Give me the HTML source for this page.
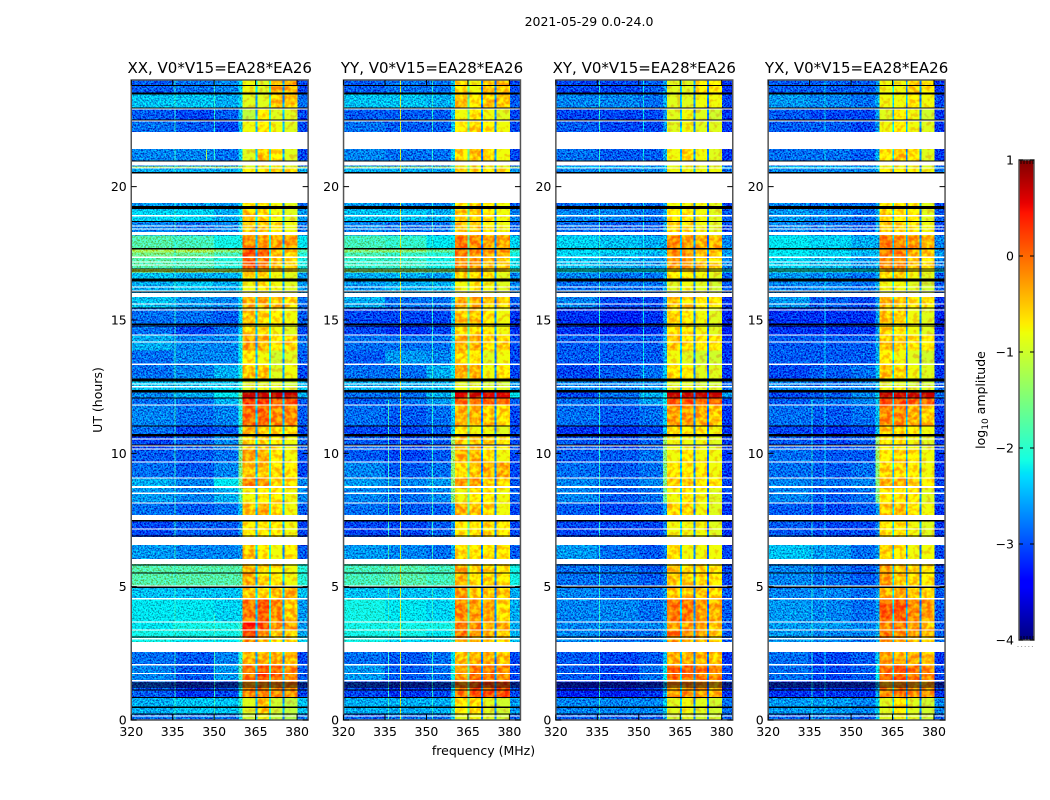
<!DOCTYPE html>
<html lang="en">
<head>
<meta charset="utf-8">
<title>2021-05-29 amplitude waterfall</title>
<style>
html,body{margin:0;padding:0;background:#fff}
svg{display:block}
text{font-family:"DejaVu Sans","Liberation Sans",sans-serif;fill:#000;font-size:12.5px}
</style>
</head>
<body>
<svg id="figure" width="1050" height="800" viewBox="0 0 1050 800" xmlns="http://www.w3.org/2000/svg">
<defs>
<filter id="grain" filterUnits="userSpaceOnUse" x="0" y="0" width="1050" height="800" color-interpolation-filters="sRGB">
<feTurbulence type="fractalNoise" baseFrequency="0.6" numOctaves="2" seed="7" result="raw"/>
<feColorMatrix in="raw" type="matrix" values="0 0 0 0 0.5  2.6 0 0 0 -0.8  2.6 0 0 0 -0.8  0 0 0 0 1" result="noise"/>
<feComposite in="SourceGraphic" in2="noise" operator="arithmetic" k1="0" k2="1" k3="0.6" k4="-0.3" result="mixed"/>
<feComposite in="mixed" in2="SourceAlpha" operator="in"/>
</filter>
<filter id="bandGrain" filterUnits="userSpaceOnUse" x="0" y="0" width="1050" height="800" color-interpolation-filters="sRGB">
<feTurbulence type="fractalNoise" baseFrequency="0.22" numOctaves="2" seed="11" result="raw"/>
<feColorMatrix in="raw" type="matrix" values="0 0 0 0 0.5  2.6 0 0 0 -0.8  0 0 0 0 0.5  0 0 0 0 1" result="noise"/>
<feComposite in="SourceGraphic" in2="noise" operator="arithmetic" k1="0" k2="1" k3="0.4" k4="-0.2" result="mixed"/>
<feComposite in="mixed" in2="SourceAlpha" operator="in"/>
</filter>
</defs>
<rect width="1050" height="800" fill="#fff"/>
<text x="589" y="26" text-anchor="middle">2021-05-29 0.0-24.0</text>
<text x="483.5" y="755" text-anchor="middle">frequency (MHz)</text>
<text transform="translate(102 400) rotate(-90)" text-anchor="middle">UT (hours)</text>
<text transform="translate(985 400) rotate(-90)" text-anchor="middle">log<tspan font-size="9" dy="3">10</tspan><tspan dy="-3"> amplitude</tspan></text>
<g id="panels"></g>
<g id="colorbar"></g>
</svg>
<script>
const panelTitles = ["XX, V0*V15=EA28*EA26","YY, V0*V15=EA28*EA26","XY, V0*V15=EA28*EA26","YX, V0*V15=EA28*EA26"];
const freqTicks = [320,335,350,365,380];
const hourTicks = [0,5,10,15,20];
const barTicks = [-4,-3,-2,-1,0,1];
const freqEdges = [320,335,350,358.8,360.3,364.9,365.6,369.8,370.5,374.7,375.4,380,384];
const hourEdges = [0,.22,.86,1.46,2.1,2.7,3.11,3.38,3.68,4.58,5.03,5.9,6.7,7.5,8.14,8.7,9.08,9.68,10.16,10.65,11.03,11.81,12.08,12.3,12.53,12.75,13.31,13.88,14.44,14.81,15.45,15.9,16.5,16.8,16.95,17.36,17.55,17.7,18.19,18.71,19.16,20,20.7,20.78,21.7,22.5,22.95,23.48,24];
const gapBands = [[2.55,2.93],[5.85,6.04],[6.56,6.86],[7.5,7.69],[8.7,8.78],[15.86,16.01],[18.19,18.3],[19.39,20.49],[20.79,20.94],[21.41,22.05]];
const gapLines = [.15,1.47,1.74,2.07,3.05,3.38,3.68,4.55,5.03,7.16,8.14,8.5,9.08,9.68,10.16,10.28,10.54,11.81,12.5,12.6,13.34,14.18,14.44,15.38,15.6,16.09,16.24,17.06,17.18,17.35,18.41,18.53,18.91,20.7,22.46,22.91];
const flagLines = [.22,.48,.84,1.12,1.24,1.31,1.39,1.46,3.11,4.98,5.51,5.81,6.9,7.47,10.31,10.65,10.7,11.03,12.08,12.3,12.35,12.72,12.78,14.78,14.84,15.45,16.06,16.47,16.5,16.53,16.84,16.91,17.67,18.69,19.18,19.22,19.26,20.52,20.96,22.5,22.95,23.47,23.5,23.79];
const slotLevels = [[-2.4,-2.0,-2.5],[-1.7,-2.7,-2.7],[-2.4,-2.7,-2.8],[-2.3,-2.6,-2.7]];
const rfiXX = [[335.7,0,24,-2.0],[350,0,4,-1.9],[350,21,24,-2.0],[347,21,21.4,-1.2]];
const rfiYY = [[340.4,0,24,-1.0],[336,0,12,-1.9],[352,0,24,-2.0]];
const rfiXY = [[335.7,0,24,-2.0],[351.5,12,24,-2.2]];
const rfiYX = [[335.7,0,12,-2.1],[340.4,0,24,-2.3]];
const levelsXX = [
[-2.7,-2.7,-2.7,-2.2,-1,-.8,-1.1,-1.2,-2.7],[-2.4,-2.3,-2.3,-1.9,-.9,-.5,-1,-1.1,-2.3],[-2.8,-3,-2.9,-2,-.2,-.1,-.2,-.2,-2.9],[-2.6,-2.8,-2.5,-1.7,-.1,.1,0,-.2,-2.8],
[-2.7,-2.8,-2.6,-1.9,-.4,-.4,-.4,-.5,-2.9],[-2,-2.1,-2.1,-1.8,-.2,-.4,-.6,-.6,-2.2],[-2,-2,-2,-1.9,.2,-.2,-.5,-.6,-2.4],[-2.1,-2,-2,-1.8,.35,.1,-.2,-.3,-2.5],
[-2.1,-2.1,-2.2,-2.2,-.1,.05,-.2,-.5,-2.5],[-2.3,-2.3,-2.3,-2.3,-.5,-.6,-.5,-.4,-2.3],[-1.6,-1.6,-1.6,-1.6,-.4,-.6,-.7,-.8,-1.9],[-2.5,-2.6,-2.6,-2.5,-.5,-.7,-.8,-.7,-2.8],
[-2.9,-2.8,-2.8,-2.5,-.7,-.7,-.7,-.8,-2.9],[-2.7,-2.8,-2.7,-2.3,-.5,-.4,-.6,-.8,-2.8],[-2.5,-2.6,-2.4,-1.7,-.8,-.7,-.7,-.8,-2.6],[-2.4,-2.6,-2.1,-1.3,-.2,-.3,-.6,-.6,-2.6],
[-2.7,-2.8,-2.6,-1.4,-.5,-.5,-.6,-.7,-2.9],[-2.8,-2.8,-2.7,-1.4,-.3,-.4,-.7,-.8,-2.9],[-2.9,-2.8,-2.6,-1.3,-.6,-.6,-.7,-.8,-2.8],[-2.7,-2.9,-2.8,-1.8,-.4,-.5,-.6,-.7,-2.9],
[-2.6,-2.7,-2.6,-1.9,-.05,0,-.2,-.2,-2.8],[-2.7,-2.7,-2.4,-1.7,.25,.2,.1,.1,-2.8],[-2.6,-2.4,-2.1,-1.5,.7,.7,.7,.7,-2.4],[-2.3,-2.3,-2.2,-1.9,-.9,-.8,-.9,-.9,-2.3],
[-2.3,-2.3,-2.3,-2,-.9,-.9,-.9,-1,-2.4],[-2.7,-2.6,-2.4,-2,-.5,-.5,-.9,-.8,-2.9],[-2.7,-2.6,-2.6,-2.1,-.7,-.8,-1,-.9,-2.8],[-2.4,-2.6,-2.6,-2,-.3,-.4,-.7,-.6,-2.7],
[-2.7,-2.9,-2.7,-2.2,-.6,-.6,-.8,-.9,-2.9],[-2.7,-2.7,-2.8,-2.2,-.5,-.6,-.7,-.8,-2.8],[-2.3,-2.5,-2.6,-2.2,-.4,-.4,-.5,-.6,-2.7],[-2.4,-2.3,-2.4,-2.1,-.8,-.7,-.8,-.9,-2.5],
[-2.3,-2.4,-2.4,-2.2,-.6,-.6,-.8,-.9,-2.5],[-.9,-.9,-1,-1.1,-.4,-.4,-.6,-.7,-1.3],[-1.6,-1.7,-1.9,-1.9,.05,-.1,-.5,-.6,-2],[-1.4,-1.5,-1.7,-1.7,.2,.1,-.5,-.6,-1.9],
[-1.1,-1.1,-1.3,-1.4,.1,-.1,-.4,-.5,-1.6],[-1.6,-1.7,-2,-2,-.2,-.3,-.3,-.3,-2.1],[-2.6,-2.7,-2.6,-2.2,-.5,-.5,-.7,-.8,-2.7],[-2.2,-2.2,-2.4,-2.1,-.5,-.6,-.8,-.9,-2.5],
[-2.5,-2.5,-2.5,-2.2,-.7,-.6,-.8,-.9,-2.7],[-2.4,-2.4,-2.4,-2.2,-.7,-.6,-.6,-.6,-2.4],[-1,-1,-1,-1,-1,-1,-1,-1,-1.1],[-2.6,-2.6,-2.7,-2.2,-.9,-.5,-.7,-.9,-2.9],
[-2.7,-2.8,-2.9,-2.3,-.8,-.7,-.8,-.9,-2.9],[-2.8,-2.9,-2.8,-2.3,-1.1,-.7,-.9,-.9,-2.9],[-2.3,-2.3,-2.4,-2.2,-.9,-.9,-.5,-.5,-2.7],[-2.8,-2.7,-2.6,-2.2,-.8,-.9,-.4,-.4,-2.9]];
const levelsYY = [
[-2.8,-2.7,-2.7,-2.2,-.9,-.8,-.9,-1,-2.8],[-2.4,-2.4,-2.4,-1.9,-.7,-.6,-.9,-1,-2.5],[-2.9,-3,-2.9,-2.2,-.1,.1,.1,.1,-2.9],[-2.5,-2.8,-2.7,-2,-.3,-.1,-.1,-.2,-2.9],
[-2.7,-2.8,-2.7,-2.1,-.5,-.4,-.4,-.5,-2.9],[-2,-2.2,-2.2,-1.9,-.3,-.4,-.5,-.6,-2.3],[-2,-2,-2.1,-1.9,-.1,-.3,-.4,-.5,-2.4],[-2,-2,-2,-1.9,-.1,-.2,-.4,-.4,-2.4],
[-2,-2.1,-2.2,-2.1,-.2,-.3,-.4,-.6,-2.4],[-2.3,-2.3,-2.3,-2.2,-.3,-.5,-.5,-.5,-2.4],[-1.7,-1.6,-1.7,-1.7,-.4,-.6,-.6,-.7,-2],[-2.5,-2.6,-2.7,-2.4,-.6,-.7,-.7,-.7,-2.8],
[-2.9,-2.9,-2.8,-2.5,-.7,-.7,-.6,-.7,-2.9],[-2.7,-2.8,-2.8,-2.4,-.4,-.5,-.6,-.8,-2.9],[-2.6,-2.7,-2.6,-1.4,-.8,-.7,-.7,-.8,-2.8],[-2.5,-2.6,-2.5,-1.3,-.3,-.3,-.6,-.6,-2.8],
[-2.6,-2.8,-2.7,-1.3,-.6,-.5,-.4,-.4,-2.9],[-2.8,-2.9,-2.8,-1.2,-.4,-.4,-.7,-.8,-2.9],[-2.8,-2.9,-2.8,-1.2,-.5,-.5,-.6,-.7,-2.9],[-2.9,-2.9,-2.8,-2.2,-.7,-.8,-.8,-.9,-2.9],
[-2.7,-2.8,-2.7,-2.3,-.4,-.4,-.5,-.6,-2.9],[-2.8,-2.7,-2.5,-2.1,-.05,-.1,0,-.1,-2.8],[-2.7,-2.7,-2.4,-1.9,.6,.7,.6,.6,-2.1],[-2.4,-2.4,-2.3,-2.1,-.8,-.8,-.9,-.9,-2.5],
[-2.4,-2.4,-2.4,-2.2,-.9,-.9,-1,-1,-2.5],[-2.7,-2.7,-2.4,-2.1,-.4,-.4,-.8,-.7,-2.9],[-2.8,-2.5,-2.6,-2.2,-.6,-.7,-.9,-.8,-2.9],[-2.7,-2.7,-2.7,-2.2,-.4,-.4,-.6,-.6,-2.9],
[-2.9,-3,-2.9,-2.3,-.6,-.6,-.7,-.8,-3],[-2.9,-2.9,-2.9,-2.3,-.5,-.5,-.7,-.8,-3],[-2.4,-2.7,-2.7,-2.3,-.4,-.4,-.5,-.6,-2.8],[-2.5,-2.4,-2.4,-2.2,-.8,-.7,-.8,-.9,-2.6],
[-2.4,-2.4,-2.5,-2.2,-.6,-.6,-.7,-.9,-2.6],[-1.2,-1.2,-1.3,-1.3,-.4,-.4,-.6,-.7,-1.6],[-1.8,-1.8,-2,-2,-.2,-.3,-.4,-.5,-2.1],[-1.7,-1.8,-1.9,-1.9,-.1,-.2,-.4,-.5,-2],
[-1.3,-1.3,-1.5,-1.6,-.1,-.2,-.3,-.3,-1.8],[-1.7,-1.8,-2.1,-2.1,-.1,-.2,-.3,-.3,-2.2],[-2.6,-2.7,-2.7,-2.3,-.5,-.5,-.7,-.8,-2.8],[-2.3,-2.3,-2.4,-2.2,-.5,-.6,-.7,-.8,-2.6],
[-2.5,-2.6,-2.6,-2.3,-.7,-.6,-.7,-.8,-2.8],[-2.4,-2.4,-2.5,-2.2,-.6,-.6,-.6,-.7,-2.5],[-1.2,-1.2,-1.2,-1.2,-1,-1,-1,-1,-1.3],[-2.6,-2.7,-2.7,-2.2,-.6,-.5,-.6,-.8,-2.9],
[-2.7,-2.8,-2.8,-2.3,-.7,-.6,-.7,-.8,-2.9],[-2.8,-2.8,-2.8,-2.3,-.8,-.7,-.8,-.9,-2.9],[-2.3,-2.3,-2.4,-2.2,-.5,-.7,-.5,-.5,-2.8],[-2.8,-2.7,-2.7,-2.3,-.6,-.8,-.5,-.5,-2.9]];
const levelsXY = [
[-2.8,-2.8,-2.8,-2.4,-1,-.9,-1,-1,-2.8],[-2.6,-2.6,-2.6,-2.2,-.9,-.8,-.9,-1,-2.7],[-3.1,-3.1,-3,-2.4,-.3,-.2,-.3,-.4,-3],[-2.8,-2.9,-2.7,-2.1,0,0,-.1,-.2,-2.9],
[-2.8,-2.9,-2.8,-2.3,-.4,-.4,-.4,-.5,-3],[-2.6,-2.7,-2.7,-2.4,-.3,-.4,-.5,-.6,-2.8],[-2.6,-2.7,-2.7,-2.4,-.1,-.2,-.3,-.5,-2.8],[-2.6,-2.6,-2.6,-2.4,-.3,-.3,-.4,-.5,-2.8],
[-2.6,-2.6,-2.7,-2.5,-.1,-.1,-.3,-.4,-2.8],[-2.6,-2.7,-2.7,-2.5,-.5,-.5,-.5,-.6,-2.8],[-2.7,-2.7,-2.8,-2.6,-.5,-.6,-.6,-.7,-2.9],[-2.5,-2.7,-2.8,-2.6,-.7,-.8,-.8,-.8,-2.9],
[-2.9,-2.9,-2.9,-2.6,-.8,-.8,-.8,-.9,-3],[-2.8,-2.9,-2.8,-2.5,-.6,-.6,-.8,-.9,-3],[-2.6,-2.8,-2.7,-1.5,-.8,-.7,-.8,-.9,-2.9],[-2.6,-2.7,-2.6,-1.4,-.5,-.5,-.7,-.7,-2.9],
[-2.7,-2.8,-2.7,-1.4,-.7,-.7,-.7,-.8,-3],[-2.8,-2.8,-2.7,-1.3,-.8,-.7,-.8,-.8,-3],[-2.8,-2.9,-2.8,-1.3,-.8,-.8,-.8,-.9,-3],[-3,-3,-2.9,-2.3,-.6,-.7,-.7,-.8,-3],
[-2.7,-2.8,-2.7,-2.3,-.3,-.3,-.4,-.5,-3],[-2.7,-2.7,-2.5,-2.1,.1,.1,0,0,-2.9],[-2.9,-2.7,-2.4,-2,.7,.7,.7,.7,-2.5],[-2.6,-2.6,-2.5,-2.2,-.9,-.8,-.9,-.9,-2.7],
[-2.6,-2.6,-2.6,-2.3,-.9,-.9,-1,-1,-2.8],[-2.9,-2.8,-2.7,-2.3,-.6,-.7,-.9,-.9,-3],[-2.8,-2.8,-2.8,-2.4,-.8,-.9,-1,-1,-3],[-2.8,-2.8,-2.8,-2.4,-.5,-.6,-.7,-.7,-3],
[-3,-3.1,-3,-2.5,-.7,-.7,-.8,-.9,-3.1],[-3,-3.1,-3,-2.5,-.6,-.7,-.8,-.9,-3.1],[-2.6,-2.9,-2.9,-2.5,-.5,-.6,-.7,-.7,-3],[-2.7,-2.7,-2.7,-2.4,-.9,-.8,-.9,-1,-2.8],
[-2.6,-2.7,-2.7,-2.4,-.7,-.7,-.8,-.9,-2.8],[-2,-2.1,-2.1,-2.1,-.6,-.6,-.7,-.8,-2.3],[-2.3,-2.4,-2.5,-2.4,-.3,-.3,-.5,-.6,-2.6],[-2.2,-2.3,-2.4,-2.3,-.2,-.2,-.5,-.6,-2.5],
[-2.2,-2.2,-2.3,-2.3,-.2,-.3,-.4,-.5,-2.5],[-2.2,-2.3,-2.4,-2.4,-.2,-.3,-.4,-.4,-2.6],[-2.7,-2.8,-2.8,-2.4,-.6,-.6,-.8,-.9,-2.9],[-2.6,-2.6,-2.7,-2.4,-.7,-.7,-.8,-.9,-2.8],
[-2.7,-2.7,-2.7,-2.4,-.8,-.8,-.8,-.9,-2.9],[-2.6,-2.6,-2.6,-2.4,-.8,-.8,-.8,-.8,-2.7],[-2.1,-2.2,-2.2,-2.2,-1,-1,-1,-1,-2.3],[-2.7,-2.8,-2.8,-2.4,-.8,-.6,-.8,-.9,-3],
[-2.8,-2.9,-2.9,-2.5,-.9,-.8,-.9,-.9,-3],[-2.9,-2.9,-2.9,-2.5,-.9,-.8,-.9,-1,-3],[-2.6,-2.6,-2.7,-2.4,-.9,-.9,-.8,-.8,-2.9],[-2.9,-2.9,-2.8,-2.5,-.9,-.9,-.7,-.7,-3]];
const levelsYX = [
[-2.8,-2.7,-2.8,-2.3,-.9,-.8,-.9,-1,-2.8],[-2.5,-2.5,-2.6,-2.2,-.9,-.7,-.9,-1,-2.6],[-3,-3,-3,-2.4,-.2,-.1,-.2,-.3,-3],[-2.7,-2.9,-2.8,-2.1,-.05,.05,-.1,-.2,-2.9],
[-2.7,-2.9,-2.8,-2.3,-.3,-.4,-.4,-.5,-3],[-2.5,-2.6,-2.7,-2.4,-.2,-.3,-.5,-.6,-2.7],[-2.5,-2.6,-2.6,-2.4,-.1,-.2,-.3,-.4,-2.8],[-2.5,-2.5,-2.6,-2.4,-.2,-.1,-.3,-.5,-2.8],
[-2.5,-2.6,-2.7,-2.5,.05,.05,-.2,-.3,-2.8],[-2.6,-2.6,-2.7,-2.5,-.4,-.4,-.5,-.6,-2.8],[-2.6,-2.7,-2.8,-2.6,-.3,-.5,-.6,-.7,-2.9],[-2.3,-2.5,-2.7,-2.5,-.6,-.7,-.8,-.8,-2.9],
[-2.8,-2.9,-2.9,-2.6,-.7,-.7,-.8,-.9,-3],[-2.8,-2.9,-2.8,-2.5,-.5,-.5,-.7,-.8,-3],[-2.6,-2.8,-2.7,-1.4,-.7,-.7,-.7,-.9,-2.9],[-2.6,-2.7,-2.6,-1.3,-.4,-.4,-.6,-.7,-2.9],
[-2.7,-2.8,-2.7,-1.3,-.6,-.6,-.7,-.8,-3],[-2.7,-2.8,-2.8,-1.2,-.7,-.6,-.7,-.8,-3],[-2.8,-2.9,-2.8,-1.2,-.7,-.7,-.8,-.9,-3],[-2.9,-3,-2.9,-2.3,-.5,-.6,-.7,-.8,-3],
[-2.7,-2.8,-2.7,-2.3,-.2,-.2,-.4,-.5,-3],[-2.8,-2.7,-2.6,-2.2,.15,.1,0,0,-2.9],[-2.9,-2.8,-2.6,-2.2,.7,.65,.7,.7,-2.7],[-2.6,-2.6,-2.6,-2.3,-.8,-.8,-.9,-.9,-2.7],
[-2.6,-2.7,-2.6,-2.3,-.9,-.9,-1,-1,-2.8],[-2.9,-2.8,-2.7,-2.3,-.5,-.6,-.8,-.9,-3],[-2.8,-2.8,-2.8,-2.4,-.7,-.8,-.9,-1,-3],[-2.8,-2.8,-2.8,-2.4,-.5,-.5,-.7,-.7,-3],
[-3,-3,-3,-2.5,-.6,-.7,-.8,-.9,-3.1],[-3,-3,-3,-2.5,-.5,-.6,-.8,-.9,-3.1],[-2.5,-2.8,-2.9,-2.5,-.4,-.5,-.7,-.7,-3],[-2.6,-2.6,-2.7,-2.4,-.8,-.8,-.9,-1,-2.8],
[-2.5,-2.6,-2.7,-2.4,-.6,-.6,-.8,-.9,-2.8],[-1.9,-2,-2.1,-2.1,-.5,-.5,-.7,-.8,-2.3],[-2.2,-2.3,-2.5,-2.4,-.2,-.2,-.5,-.6,-2.6],[-2.1,-2.2,-2.4,-2.3,-.1,-.1,-.4,-.5,-2.5],
[-2.1,-2.2,-2.3,-2.3,-.1,-.2,-.4,-.5,-2.5],[-2.1,-2.2,-2.4,-2.4,-.1,-.2,-.3,-.4,-2.6],[-2.6,-2.7,-2.8,-2.4,-.5,-.6,-.7,-.8,-2.9],[-2.5,-2.6,-2.7,-2.4,-.6,-.7,-.7,-.9,-2.8],
[-2.6,-2.7,-2.7,-2.4,-.7,-.7,-.7,-.9,-2.9],[-2.6,-2.6,-2.6,-2.4,-.7,-.7,-.7,-.8,-2.7],[-2,-2.1,-2.2,-2.2,-1,-1,-1,-1,-2.3],[-2.7,-2.7,-2.8,-2.4,-.7,-.5,-.7,-.9,-3],
[-2.8,-2.8,-2.9,-2.5,-.8,-.7,-.8,-.9,-3],[-2.8,-2.9,-2.9,-2.5,-.9,-.7,-.8,-1,-3],[-2.5,-2.6,-2.7,-2.4,-.8,-.8,-.7,-.8,-2.9],[-2.8,-2.8,-2.8,-2.5,-.8,-.8,-.6,-.7,-3]];
const panelLevels = [levelsXX,levelsYY,levelsXY,levelsYX];
const panelRfi = [rfiXX,rfiYY,rfiXY,rfiYX];

const NS = "http://www.w3.org/2000/svg";
const FREQ_MIN = 320, FREQ_MAX = 384, HOUR_MAX = 24, LEVEL_MIN = -4, LEVEL_MAX = 1;
const BACKGROUND_BIAS = -0.15;
const BAND_COLUMNS = [4,5,6,7,8,9,10];
const PANEL_W = 176.9, PANEL_STEP = 212.3, PANEL_LEFT = 131.25, PANEL_TOP = 80, PANEL_H = 640;
const panelX = i => PANEL_LEFT + i * PANEL_STEP;
const xScale = (f, i) => panelX(i) + (f - FREQ_MIN) / (FREQ_MAX - FREQ_MIN) * PANEL_W;
const yScale = h => PANEL_TOP + PANEL_H - h / HOUR_MAX * PANEL_H;
const BAR_X = 1019, BAR_W = 15, BAR_TOP = 160, BAR_H = 480;
const barY = v => BAR_TOP + (LEVEL_MAX - v) / (LEVEL_MAX - LEVEL_MIN) * BAR_H;

function lerpStops(stops, t) {
  for (let i = 1; i < stops.length; i++) {
    if (t <= stops[i][0]) {
      const a = stops[i - 1], b = stops[i];
      return a[1] + (b[1] - a[1]) * (t - a[0]) / (b[0] - a[0]);
    }
  }
  return stops[stops.length - 1][1];
}
const jetR = [[0,0],[.35,0],[.66,1],[.89,1],[1,.5]];
const jetG = [[0,0],[.125,0],[.375,1],[.64,1],[.91,0],[1,0]];
const jetB = [[0,.5],[.11,1],[.34,1],[.65,0],[1,0]];
function jet(v) {
  const t = Math.min(1, Math.max(0, (v - LEVEL_MIN) / (LEVEL_MAX - LEVEL_MIN)));
  const c = s => Math.round(lerpStops(s, t) * 255);
  return "rgb(" + c(jetR) + "," + c(jetG) + "," + c(jetB) + ")";
}
function make(tag, attrs, parent) {
  const el = document.createElementNS(NS, tag);
  for (const k in attrs) el.setAttribute(k, attrs[k]);
  parent.appendChild(el);
  return el;
}
function columnLevel(row, col, panel) {
  const map = [row[0],row[1],row[2],row[3],row[4],slotLevels[panel][0],row[5],slotLevels[panel][1],row[6],slotLevels[panel][2],row[7],row[8]];
  return BAND_COLUMNS.includes(col) ? map[col] : map[col] + BACKGROUND_BIAS;
}

const panelsGroup = document.getElementById("panels");
panelTitles.forEach((title, p) => {
  const g = make("g", {}, panelsGroup);
  
  
  const backgroundCells = make("g", {"shape-rendering":"crispEdges", filter:"url(#grain)"}, g);
  
  
  const cells = make("g", {"shape-rendering":"crispEdges", filter:"url(#bandGrain)"}, g);
  
  
  const overlays = make("g", {"shape-rendering":"crispEdges"}, g);
  
  
  panelLevels[p].forEach((row, r) => {
    for (let c = 0; c < freqEdges.length - 1; c++) {
      const x0 = xScale(freqEdges[c], p), x1 = xScale(freqEdges[c + 1], p);
      const y0 = yScale(hourEdges[r + 1]), y1 = yScale(hourEdges[r]);
      const target = BAND_COLUMNS.includes(c) ? cells : backgroundCells;
      const cell = make("rect", {x:x0, y:y0, width:x1 - x0 + .5, height:y1 - y0 + .5, fill:jet(columnLevel(row, c, p))}, target);
      
      
    }
  });
  panelRfi[p].forEach(item => {
    const y0 = yScale(item[2]), y1 = yScale(item[1]);
    const rfi = make("rect", {x:xScale(item[0], p), y:y0, width:1, height:y1 - y0, fill:jet(item[3])}, backgroundCells);
    
    
  });
  flagLines.forEach(h => {
    const flag = make("rect", {x:panelX(p), y:yScale(h) - .6, width:PANEL_W, height:1.2, fill:"#000"}, overlays);
    
    
  });
  gapLines.forEach(h => {
    const line = make("rect", {x:panelX(p), y:yScale(h) - .6, width:PANEL_W, height:1.2, fill:"#fff"}, overlays);
    
    
  });
  gapBands.forEach(b => {
    const y0 = yScale(b[1]), y1 = yScale(b[0]);
    const gap = make("rect", {x:panelX(p), y:y0, width:PANEL_W, height:y1 - y0, fill:"#fff"}, overlays);
    
    
  });
  const frame = make("rect", {x:panelX(p), y:PANEL_TOP, width:PANEL_W, height:PANEL_H, fill:"none", stroke:"#555", "stroke-width":1.5}, g);
  
  
  freqTicks.forEach(f => {
    const x = xScale(f, p);
    const lo = make("path", {d:"M" + x + " " + (PANEL_TOP + PANEL_H) + "v-5.5M" + x + " " + PANEL_TOP + "v5.5", stroke:"#000", "stroke-width":1}, g);
    
    
    const lab = make("text", {x:x, y:PANEL_TOP + PANEL_H + 16, "text-anchor":"middle"}, g);
    lab.textContent = f;
    
    
  });
  hourTicks.forEach(h => {
    const y = yScale(h);
    const tk = make("path", {d:"M" + panelX(p) + " " + y + "h5.5M" + (panelX(p) + PANEL_W) + " " + y + "h-5.5", stroke:"#000", "stroke-width":1}, g);
    
    
    const lab = make("text", {x:panelX(p) - 4.5, y:y + 4.5, "text-anchor":"end"}, g);
    lab.textContent = h;
    
    
  });
  const t = make("text", {x:panelX(p) + PANEL_W / 2, y:PANEL_TOP - 7, "text-anchor":"middle", "font-size":15, style:"font-size:15px"}, g);
  t.textContent = title;
  
  
});

const barGroup = document.getElementById("colorbar");
const barStrip = make("g", {"shape-rendering":"crispEdges"}, barGroup);


for (let k = 0; k < BAR_H; k++) {
  const v = LEVEL_MAX - (k + .5) / BAR_H * (LEVEL_MAX - LEVEL_MIN);
  const s = make("rect", {x:BAR_X, y:BAR_TOP + k, width:BAR_W, height:1.2, fill:jet(v)}, barStrip);
  
  
}
const barFrame = make("rect", {x:BAR_X, y:BAR_TOP, width:BAR_W, height:BAR_H, fill:"none", stroke:"#555", "stroke-width":1.5}, barGroup);


barTicks.forEach(v => {
  const y = barY(v);
  const tk = make("path", {d:"M" + BAR_X + " " + y + "h4M" + (BAR_X + BAR_W) + " " + y + "h-4", stroke:"#000", "stroke-width":1}, barGroup);
  
  
  const lab = make("text", {x:BAR_X - 5, y:y + 4.5, "text-anchor":"end"}, barGroup);
  lab.textContent = v < 0 ? "\u2212" + Math.abs(v) : String(v);
  
  
});
const barMinor = make("path", {d:"M1021 160v4M1024 160v4M1027 160v4M1030 160v4M1033 160v4M1021 640v-4M1024 640v-4M1027 640v-4M1030 640v-4M1033 640v-4", stroke:"#000", "stroke-width":.8}, barGroup);


const barDots = make("path", {d:"M1017.5 646.5h18", stroke:"#999", "stroke-width":1, "stroke-dasharray":"1 2.6"}, barGroup);


</script>
</body>
</html>
